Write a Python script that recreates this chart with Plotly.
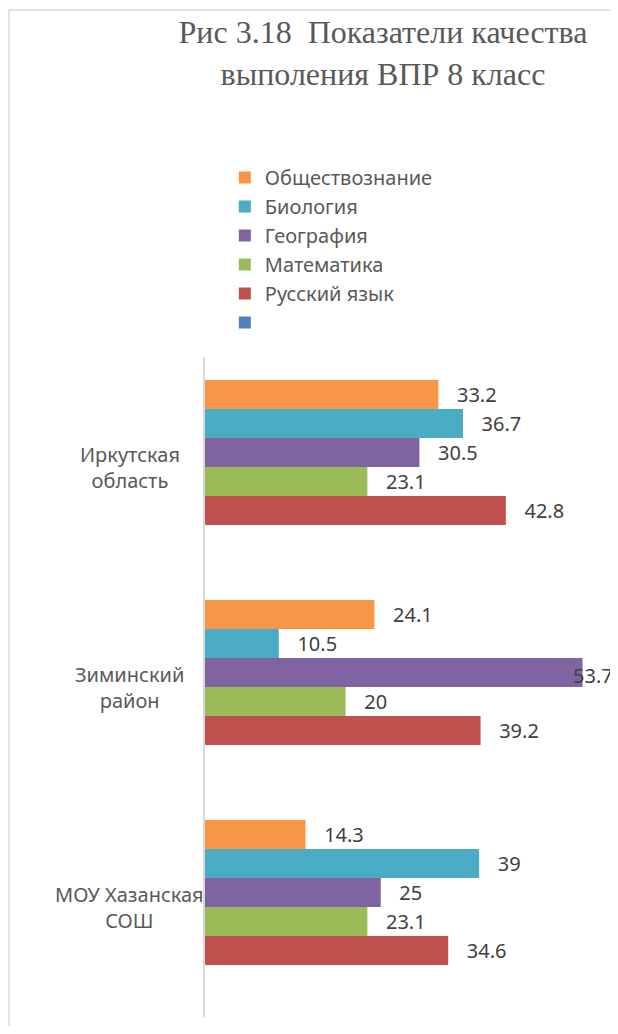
import plotly.graph_objects as go

categories = ["Иркутская<br>область", "Зиминский<br>район", "МОУ Хазанская<br>СОШ"]
series_names = ["Обществознание", "Биология", "География", "Математика", "Русский язык", ""]
obshchestvo = [33.2, 24.1, 14.3]
biologiya = [36.7, 10.5, 39]
geografiya = [30.5, 53.7, 25]
matematika = [23.1, 20, 23.1]
russkiy = [42.8, 39.2, 34.6]
empty_series = [None, None, None]

colors = ["#F79646", "#4BACC6", "#8064A2", "#9BBB59", "#C0504D", "#4F81BD"]
series_values = [obshchestvo, biologiya, geografiya, matematika, russkiy, empty_series]

font_family = "Noto Sans"
pad = "\u00a0\u00a0\u00a0"
x_max = 58.75

# размеры области построения (страница в браузере сдвинута на 8px)
W, H = 610, 1018
M_L, M_R, M_T, M_B = 197, 0, 349, 9
bargap = 0.209
band_px = (H - M_T - M_B) / len(categories)
slot_px = band_px * (1 - bargap) / len(series_names)

fig = go.Figure()
for i, (name, vals, col) in enumerate(zip(series_names, series_values, colors)):
    texts = []
    for j, v in enumerate(vals):
        if v is None:
            texts.append("")
        elif v > x_max - 7:
            # подпись не помещается справа — прижимаем её к краю, как в Excel
            texts.append("")
            fig.add_annotation(
                x=v, xref="x", y=categories[j], yref="y", text=f"{v:g}",
                showarrow=False, xanchor="left", xshift=-12,
                yshift=(len(series_names) / 2 - i - 0.5) * slot_px - 3,
                font=dict(family=font_family, size=20, color="#404040"),
            )
        else:
            texts.append(pad + f"{v:g}")
    fig.add_trace(go.Bar(
        name=name, y=categories, x=vals, orientation="h",
        marker=dict(color=col, line=dict(width=0)),
        text=texts, textposition="outside", cliponaxis=False,
        constraintext="none",
        textfont=dict(family=font_family, size=20, color="#404040"),
    ))

# подписи категорий по центру, как в оригинале
for cat in categories:
    fig.add_annotation(
        x=-0.182, xref="paper", y=cat, yref="y", text=cat, showarrow=False,
        xanchor="center", align="center",
        font=dict(family=font_family, size=20, color="#595959"),
    )

# светлая рамка области диаграммы (левая и верхняя стороны)
frame = dict(color="#D9D9D9", width=1.5)
fig.add_shape(type="line", xref="paper", yref="paper",
              x0=-0.4746, x1=-0.4746, y0=-0.2, y1=1.5258, line=frame)
fig.add_shape(type="line", xref="paper", yref="paper",
              x0=-0.4746, x1=1.3, y0=1.5258, y1=1.5258, line=frame)

fig.update_layout(
    width=W, height=H,
    margin=dict(t=M_T, b=M_B, l=M_L, r=M_R, pad=0),
    plot_bgcolor="white", paper_bgcolor="white",
    barmode="group", bargap=bargap, bargroupgap=0,
    title=dict(
        text="Рис 3.18\u00a0 Показатели качества<br>выполения ВПР 8 класс",
        x=0.431, xref="paper", xanchor="center",
        y=1 - 35 / H, yref="container", yanchor="top",
        font=dict(family="Liberation Serif", size=32, color="#595959"),
    ),
    legend=dict(
        x=0.048, xanchor="left", y=1.3015, yanchor="top",
        traceorder="normal",
        font=dict(family=font_family, size=20, color="#595959"),
        bgcolor="rgba(0,0,0,0)",
    ),
    xaxis=dict(range=[0, x_max], showgrid=False, zeroline=False,
               showticklabels=False, showline=False, fixedrange=True),
    yaxis=dict(autorange="reversed", showgrid=False, showticklabels=False,
               showline=True, linecolor="#D9D9D9", linewidth=1.5, ticks=""),
)

fig.write_html("out.html")
